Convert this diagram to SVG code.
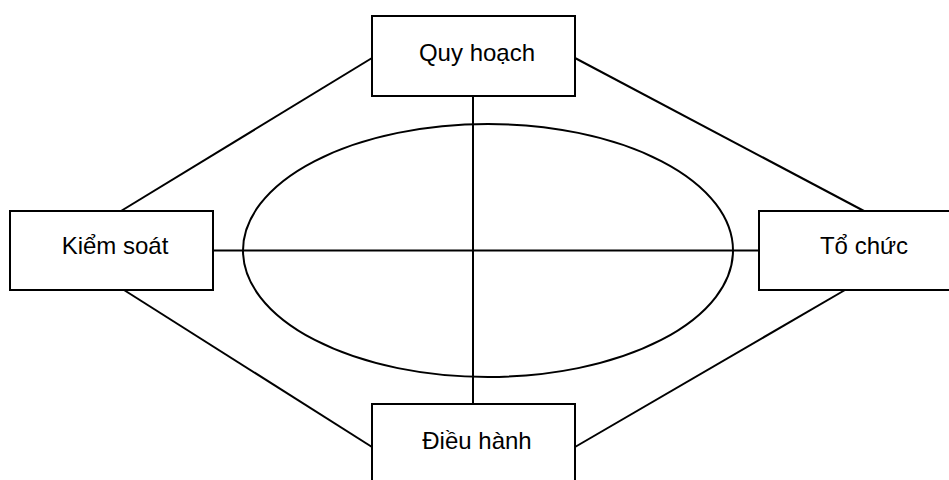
<svg xmlns="http://www.w3.org/2000/svg" width="949" height="480" viewBox="0 0 949 480">
<style>
.box{fill:#fff;stroke:#000;stroke-width:2}
.ln{stroke:#000;stroke-width:2;fill:none}
.t{font-family:"Liberation Sans",Arial,sans-serif;font-size:24px;fill:#000;text-anchor:middle}
</style>
<rect width="949" height="480" fill="#fff"/>
<g id="connectors">
<ellipse class="ln" cx="488" cy="250.5" rx="245" ry="126.5"/>
<line class="ln" x1="473" y1="96" x2="473" y2="404"/>
<line class="ln" x1="213" y1="250.5" x2="759" y2="250.5"/>
<line class="ln" x1="121" y1="211" x2="372" y2="58"/>
<line class="ln" x1="575" y1="58" x2="864" y2="211"/>
<line class="ln" x1="124" y1="290" x2="372" y2="447"/>
<line class="ln" x1="575" y1="447" x2="845" y2="290"/>
</g>
<g id="quy-hoach">
<rect class="box" x="372" y="16" width="203" height="80"/>
<text class="t" x="477" y="61">Quy hoạch</text>
</g>
<g id="kiem-soat">
<rect class="box" x="10" y="211" width="203" height="79"/>
<text class="t" x="115" y="254">Kiểm soát</text>
</g>
<g id="to-chuc">
<rect class="box" x="759" y="211" width="203" height="79"/>
<text class="t" x="864" y="254">Tổ chức</text>
</g>
<g id="dieu-hanh">
<rect class="box" x="372" y="404" width="203" height="90"/>
<text class="t" x="477" y="449">Điều hành</text>
</g>
</svg>
